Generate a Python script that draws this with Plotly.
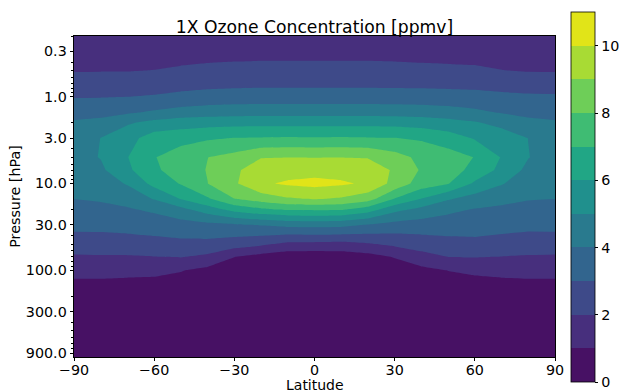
import numpy as np
import plotly.graph_objects as go

# Grid: latitude (deg) and pressure (hPa)
latitudes = [-90, -80, -70, -60, -50, -40, -30, -20, -10, 0, 10, 20, 30, 40, 50, 60, 70, 80, 90]
pressures = [0.2, 0.3, 0.5, 0.7, 1, 1.5, 2, 3, 5, 7, 10, 15, 20, 30, 50, 70, 100, 150, 200, 300, 1000]

# Ozone mixing ratio (ppmv); one profile per latitude, ordered like `pressures`
ozone_columns = [
    [1.18, 1.48, 1.95, 2.41, 2.94, 3.65, 4.11, 4.46, 4.68, 4.68, 4.49, 4.01, 3.69, 3.30, 2.47, 1.90, 1.32, 0.75, 0.55, 0.35, 0.10],  # -90
    [1.19, 1.49, 1.96, 2.42, 2.95, 3.70, 4.25, 5.01, 5.04, 4.82, 4.47, 4.10, 3.78, 3.29, 2.51, 1.92, 1.32, 0.75, 0.55, 0.35, 0.10],  # -80
    [1.19, 1.49, 1.96, 2.45, 2.99, 3.83, 4.88, 5.62, 5.97, 5.81, 5.09, 4.36, 3.90, 3.37, 2.56, 1.92, 1.27, 0.72, 0.52, 0.33, 0.10],  # -70
    [1.24, 1.54, 2.02, 2.52, 3.08, 4.11, 5.29, 6.49, 6.95, 6.80, 6.32, 5.07, 4.17, 3.48, 2.65, 1.98, 1.23, 0.70, 0.50, 0.32, 0.10],  # -60
    [1.30, 1.62, 2.13, 2.62, 3.24, 4.37, 5.54, 6.63, 7.52, 7.56, 7.07, 6.06, 4.70, 3.63, 2.74, 2.05, 1.05, 0.60, 0.45, 0.30, 0.10],  # -50
    [1.35, 1.67, 2.21, 2.70, 3.36, 4.50, 5.62, 6.87, 7.99, 8.04, 7.99, 6.88, 5.50, 3.77, 2.72, 1.80, 0.75, 0.45, 0.35, 0.25, 0.08],  # -40
    [1.38, 1.70, 2.26, 2.74, 3.42, 4.57, 5.67, 7.02, 8.32, 8.79, 8.86, 7.99, 6.33, 3.89, 2.49, 1.02, 0.55, 0.35, 0.28, 0.20, 0.07],  # -30
    [1.39, 1.72, 2.29, 2.78, 3.45, 4.60, 5.69, 7.06, 8.95, 9.63, 9.85, 8.49, 6.82, 4.07, 2.20, 0.65, 0.35, 0.25, 0.20, 0.15, 0.05],  # -20
    [1.39, 1.72, 2.29, 2.78, 3.45, 4.60, 5.69, 7.10, 8.99, 9.54, 10.15, 8.91, 7.10, 4.29, 1.74, 0.45, 0.28, 0.20, 0.15, 0.12, 0.05],  # -10
    [1.39, 1.72, 2.29, 2.78, 3.45, 4.60, 5.69, 7.07, 8.98, 9.59, 10.30, 9.08, 7.15, 4.34, 1.75, 0.35, 0.25, 0.18, 0.14, 0.10, 0.05],  # 0
    [1.39, 1.72, 2.29, 2.78, 3.45, 4.60, 5.69, 7.10, 8.99, 9.54, 10.15, 8.91, 7.10, 4.29, 1.70, 0.45, 0.28, 0.20, 0.15, 0.12, 0.05],  # 10
    [1.39, 1.72, 2.29, 2.78, 3.45, 4.60, 5.69, 7.06, 8.94, 9.63, 9.85, 8.43, 6.50, 3.95, 1.92, 0.65, 0.35, 0.25, 0.20, 0.15, 0.05],  # 20
    [1.38, 1.70, 2.27, 2.76, 3.44, 4.57, 5.67, 7.02, 8.39, 8.86, 8.66, 6.98, 5.29, 3.66, 2.21, 1.06, 0.55, 0.35, 0.28, 0.20, 0.07],  # 30
    [1.35, 1.67, 2.22, 2.74, 3.42, 4.52, 5.54, 6.86, 7.75, 7.90, 7.55, 5.99, 4.73, 3.54, 2.49, 1.63, 0.75, 0.45, 0.35, 0.25, 0.08],  # 40
    [1.33, 1.64, 2.19, 2.72, 3.37, 4.40, 5.35, 6.48, 7.43, 7.46, 7.06, 5.11, 4.23, 3.50, 2.66, 2.01, 1.02, 0.60, 0.45, 0.30, 0.10],  # 50
    [1.30, 1.62, 2.15, 2.69, 3.32, 4.18, 5.10, 5.91, 6.97, 6.70, 5.84, 4.59, 3.94, 3.46, 2.74, 2.05, 1.17, 0.68, 0.50, 0.32, 0.10],  # 60
    [1.24, 1.54, 2.02, 2.60, 3.21, 3.91, 4.68, 5.58, 5.95, 5.74, 5.08, 4.26, 3.82, 3.35, 2.62, 1.98, 1.27, 0.72, 0.52, 0.33, 0.10],  # 70
    [1.17, 1.47, 1.94, 2.51, 3.15, 3.76, 4.22, 4.99, 5.03, 4.75, 4.42, 4.05, 3.73, 3.26, 2.52, 1.92, 1.32, 0.75, 0.55, 0.35, 0.10],  # 80
    [1.16, 1.46, 1.93, 2.49, 3.12, 3.72, 4.09, 4.40, 4.58, 4.59, 4.42, 4.01, 3.69, 3.30, 2.47, 1.90, 1.32, 0.75, 0.55, 0.35, 0.10],  # 90
]

# Axis ticks
lat_ticks = [-90, -60, -30, 0, 30, 60, 90]
lat_ticktext = ["\u221290", "\u221260", "\u221230", "0", "30", "60", "90"]
p_ticks = [0.3, 1.0, 3.0, 10.0, 30.0, 100.0, 300.0, 900.0]
p_ticktext = ["0.3", "1.0", "3.0", "10.0", "30.0", "100.0", "300.0", "900.0"]
p_minor = [m * 10.0 ** e for e in (-1, 0, 1, 2) for m in range(2, 10)]
cbar_ticks = [0, 2, 4, 6, 8, 10]

# Viridis colours for the eleven 1-ppmv bands (0-1 ... 10-11)
band_colors = ["#471164", "#472f7d", "#3e4a89", "#32658e", "#297a8e", "#20908d",
               "#21a685", "#3fbc73", "#6ece58", "#a8db34", "#e1e418"]
band_edges = [0.110, 0.197, 0.284, 0.371, 0.458, 0.542, 0.629, 0.716, 0.803, 0.890]

# Step colour scale: one flat colour per contour band
colorscale = []
lo = 0.0
for i, c in enumerate(band_colors):
    hi = band_edges[i] if i < len(band_edges) else 1.0
    colorscale.append([lo, c])
    colorscale.append([hi, c])
    lo = hi

z = np.array(ozone_columns).T

FONT = "DejaVu Sans"

fig = go.Figure(
    go.Contour(
        x=latitudes,
        y=pressures,
        z=z,
        colorscale=colorscale,
        autocontour=False,
        contours=dict(start=0, end=11, size=1, coloring="fill", showlines=False),
        line=dict(width=0, smoothing=0),
        zmin=0,
        zmax=11,
        colorbar=dict(
            thickness=24,
            thicknessmode="pixels",
            len=370,
            lenmode="pixels",
            x=1.0326,
            xanchor="left",
            y=0.498,
            yanchor="middle",
            xpad=0,
            ypad=0,
            outlinewidth=0.8,
            outlinecolor="black",
            ticks="outside",
            ticklen=3.5,
            tickwidth=0.8,
            tickcolor="black",
            tickvals=cbar_ticks,
            ticktext=[str(v) for v in cbar_ticks],
            tickfont=dict(family=FONT, size=14.3, color="black"),
        ),
        hoverinfo="skip",
    )
)

fig.update_layout(
    width=619,
    height=392,
    margin=dict(l=73.5, r=63.7, t=35.7, b=35.3, pad=0, autoexpand=False),
    paper_bgcolor="white",
    plot_bgcolor="white",
    font=dict(family=FONT, size=14.3, color="black"),
    title=dict(
        text="1X Ozone Concentration [ppmv]",
        font=dict(family=FONT, size=17.2, color="black"),
        x=0.5,
        xref="paper",
        xanchor="center",
        y=1 - 26.5 / 392,
        yref="container",
        yanchor="middle",
    ),
    xaxis=dict(
        range=[-90, 90],
        tickvals=lat_ticks,
        ticktext=lat_ticktext,
        ticks="outside",
        ticklen=3.5,
        tickwidth=0.8,
        tickcolor="black",
        ticklabelstandoff=-4,
        showline=True,
        linecolor="black",
        linewidth=0.8,
        mirror=True,
        showgrid=False,
        zeroline=False,
        automargin=False,
        tickfont=dict(family=FONT, size=14.3, color="black"),
    ),
    yaxis=dict(
        type="log",
        range=[np.log10(1000), np.log10(0.2)],
        tickvals=p_ticks,
        ticktext=p_ticktext,
        ticks="outside",
        ticklen=3.5,
        tickwidth=0.8,
        tickcolor="black",
        minor=dict(tickvals=p_minor, ticks="outside", ticklen=2, tickwidth=0.6, tickcolor="black", showgrid=False),
        showline=True,
        linecolor="black",
        linewidth=0.8,
        mirror=True,
        showgrid=False,
        zeroline=False,
        automargin=False,
        tickfont=dict(family=FONT, size=14.3, color="black"),
        title=dict(text="Pressure [hPa]", font=dict(family=FONT, size=14.3, color="black"), standoff=1),
    ),
    annotations=[
        dict(
            text="Latitude",
            xref="paper",
            yref="paper",
            x=0.5,
            y=-(384.2 - 356.7) / 321.0,
            xanchor="center",
            yanchor="middle",
            showarrow=False,
            font=dict(family=FONT, size=14, color="black"),
        )
    ],
)

fig.write_html("out.html")
